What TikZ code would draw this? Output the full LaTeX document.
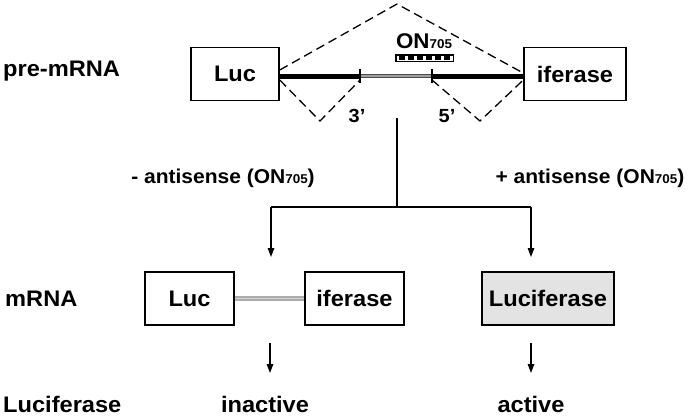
\documentclass[tikz,border=0pt]{standalone}
\usepackage{fontspec}
\setmainfont{Liberation Sans}[FakeStretch=1.05]
\usepackage{tikz}
\usetikzlibrary{arrows.meta}
\tikzset{
  box/.style={draw, line width=1.5pt, minimum height=53pt, inner sep=0pt, font=\fontsize{22.5}{22.5}\selectfont\bfseries},
  lbl/.style={inner sep=0pt, font=\fontsize{22.5}{22.5}\selectfont\bfseries},
  cut/.style={dash pattern=on 9pt off 5pt, line width=1.3pt},
  flow/.style={line width=1.3pt, -{Triangle[length=9pt,width=6.5pt]}},
}
\newcommand{\onsub}[1]{{\fontsize{12.8}{12.8}\selectfont #1}}

\begin{document}
\begin{tikzpicture}[x=1pt,y=-1pt]
  \useasboundingbox (0,0) rectangle (689,416);
  \node[box, minimum width=88pt] (luctop) at (235,74) {Luc};
  \node[box, minimum width=102pt] (fertop) at (575,74) {iferase};
  \coordinate (ss) at (360,76);
  \coordinate (se) at (432,76);
  \coordinate (apex) at (397,4);
  \coordinate (lowl) at (320,121);
  \coordinate (lowr) at (480,121);
  \draw[line width=5pt] (luctop.east |- ss) -- (ss);
  \draw[line width=5pt] (se) -- (fertop.west |- se);
  \draw[line width=4.5pt, gray!60!black] (ss) -- (se);
  \draw[line width=2.5pt, gray!75] (ss) -- (se);
  \draw[line width=1.1pt] ([yshift=7pt]ss) -- ([yshift=-7pt]ss);
  \draw[line width=1.1pt] ([yshift=7pt]se) -- ([yshift=-7pt]se);
  \draw[cut] ([yshift=4pt]luctop.east) -- (apex) -- ([yshift=1pt]fertop.west);
  \draw[cut] ([yshift=-6pt]luctop.east) -- (lowl) -- ([yshift=-4pt]ss);
  \draw[cut] ([yshift=-4pt]se) -- (lowr) -- ([yshift=-6pt]fertop.west);
  \node[lbl, font=\fontsize{19}{19}\selectfont\bfseries, anchor=base] (three) at (357,122) {3’};
  \node[lbl, font=\fontsize{19}{19}\selectfont\bfseries, anchor=base] (five) at (447,122) {5’};
  \node[lbl, font=\fontsize{21.3}{21.3}\selectfont\bfseries, anchor=base] (on) at (424,48) {ON\onsub{705}};
  \fill (395,54) rectangle (454,62);
  \fill[white] (396.5,55.5) rectangle (452.5,60.5);
  \foreach \i in {0,...,5}
    \fill (399+\i*8.9,56.3) rectangle ++(6.4,3.4);
  \coordinate (stem) at (397,118);
  \coordinate (fork) at (397,207);
  \coordinate (lf) at (271,207);
  \coordinate (rf) at (531,207);
  \coordinate (la) at (271,257);
  \coordinate (ra) at (531,257);
  \draw[line width=1.3pt] (stem) -- (fork);
  \draw[line width=1.3pt] (lf) -- (rf);
  \draw[flow] (lf) -- (la);
  \draw[flow] (rf) -- (ra);
  \node[lbl, font=\fontsize{20}{20}\selectfont\bfseries, anchor=base] (minus) at (223,183) {- antisense (ON\onsub{705})};
  \node[lbl, font=\fontsize{20}{20}\selectfont\bfseries, anchor=base] (plus) at (590,183) {+ antisense (ON\onsub{705})};
  \node[box, minimum width=89pt] (lucmid) at (189.5,298.5) {Luc};
  \node[box, minimum width=99pt] (fermid) at (354.5,298.5) {iferase};
  \node[box, fill=gray!22, minimum width=132pt] (lucfull) at (548,298.5) {Luciferase};
  \draw[line width=5pt, gray!65] (lucmid) -- (fermid);
  \draw[line width=1.8pt, gray!35] (lucmid) -- (fermid);
  \coordinate (ia) at (270,343);
  \coordinate (ib) at (270,373);
  \coordinate (aa) at (531,343);
  \coordinate (ab) at (531,373);
  \draw[flow] (ia) -- (ib);
  \draw[flow] (aa) -- (ab);
  \node[lbl, anchor=base west] (prelbl) at (3,76) {pre-mRNA};
  \node[lbl, anchor=base west] (mrnalbl) at (5,306) {mRNA};
  \node[lbl, anchor=base west] (lucilbl) at (3,412) {Luciferase};
  \node[lbl, anchor=base] (inact) at (265,412) {inactive};
  \node[lbl, anchor=base] (act) at (531,412) {active};
\end{tikzpicture}
\end{document}
